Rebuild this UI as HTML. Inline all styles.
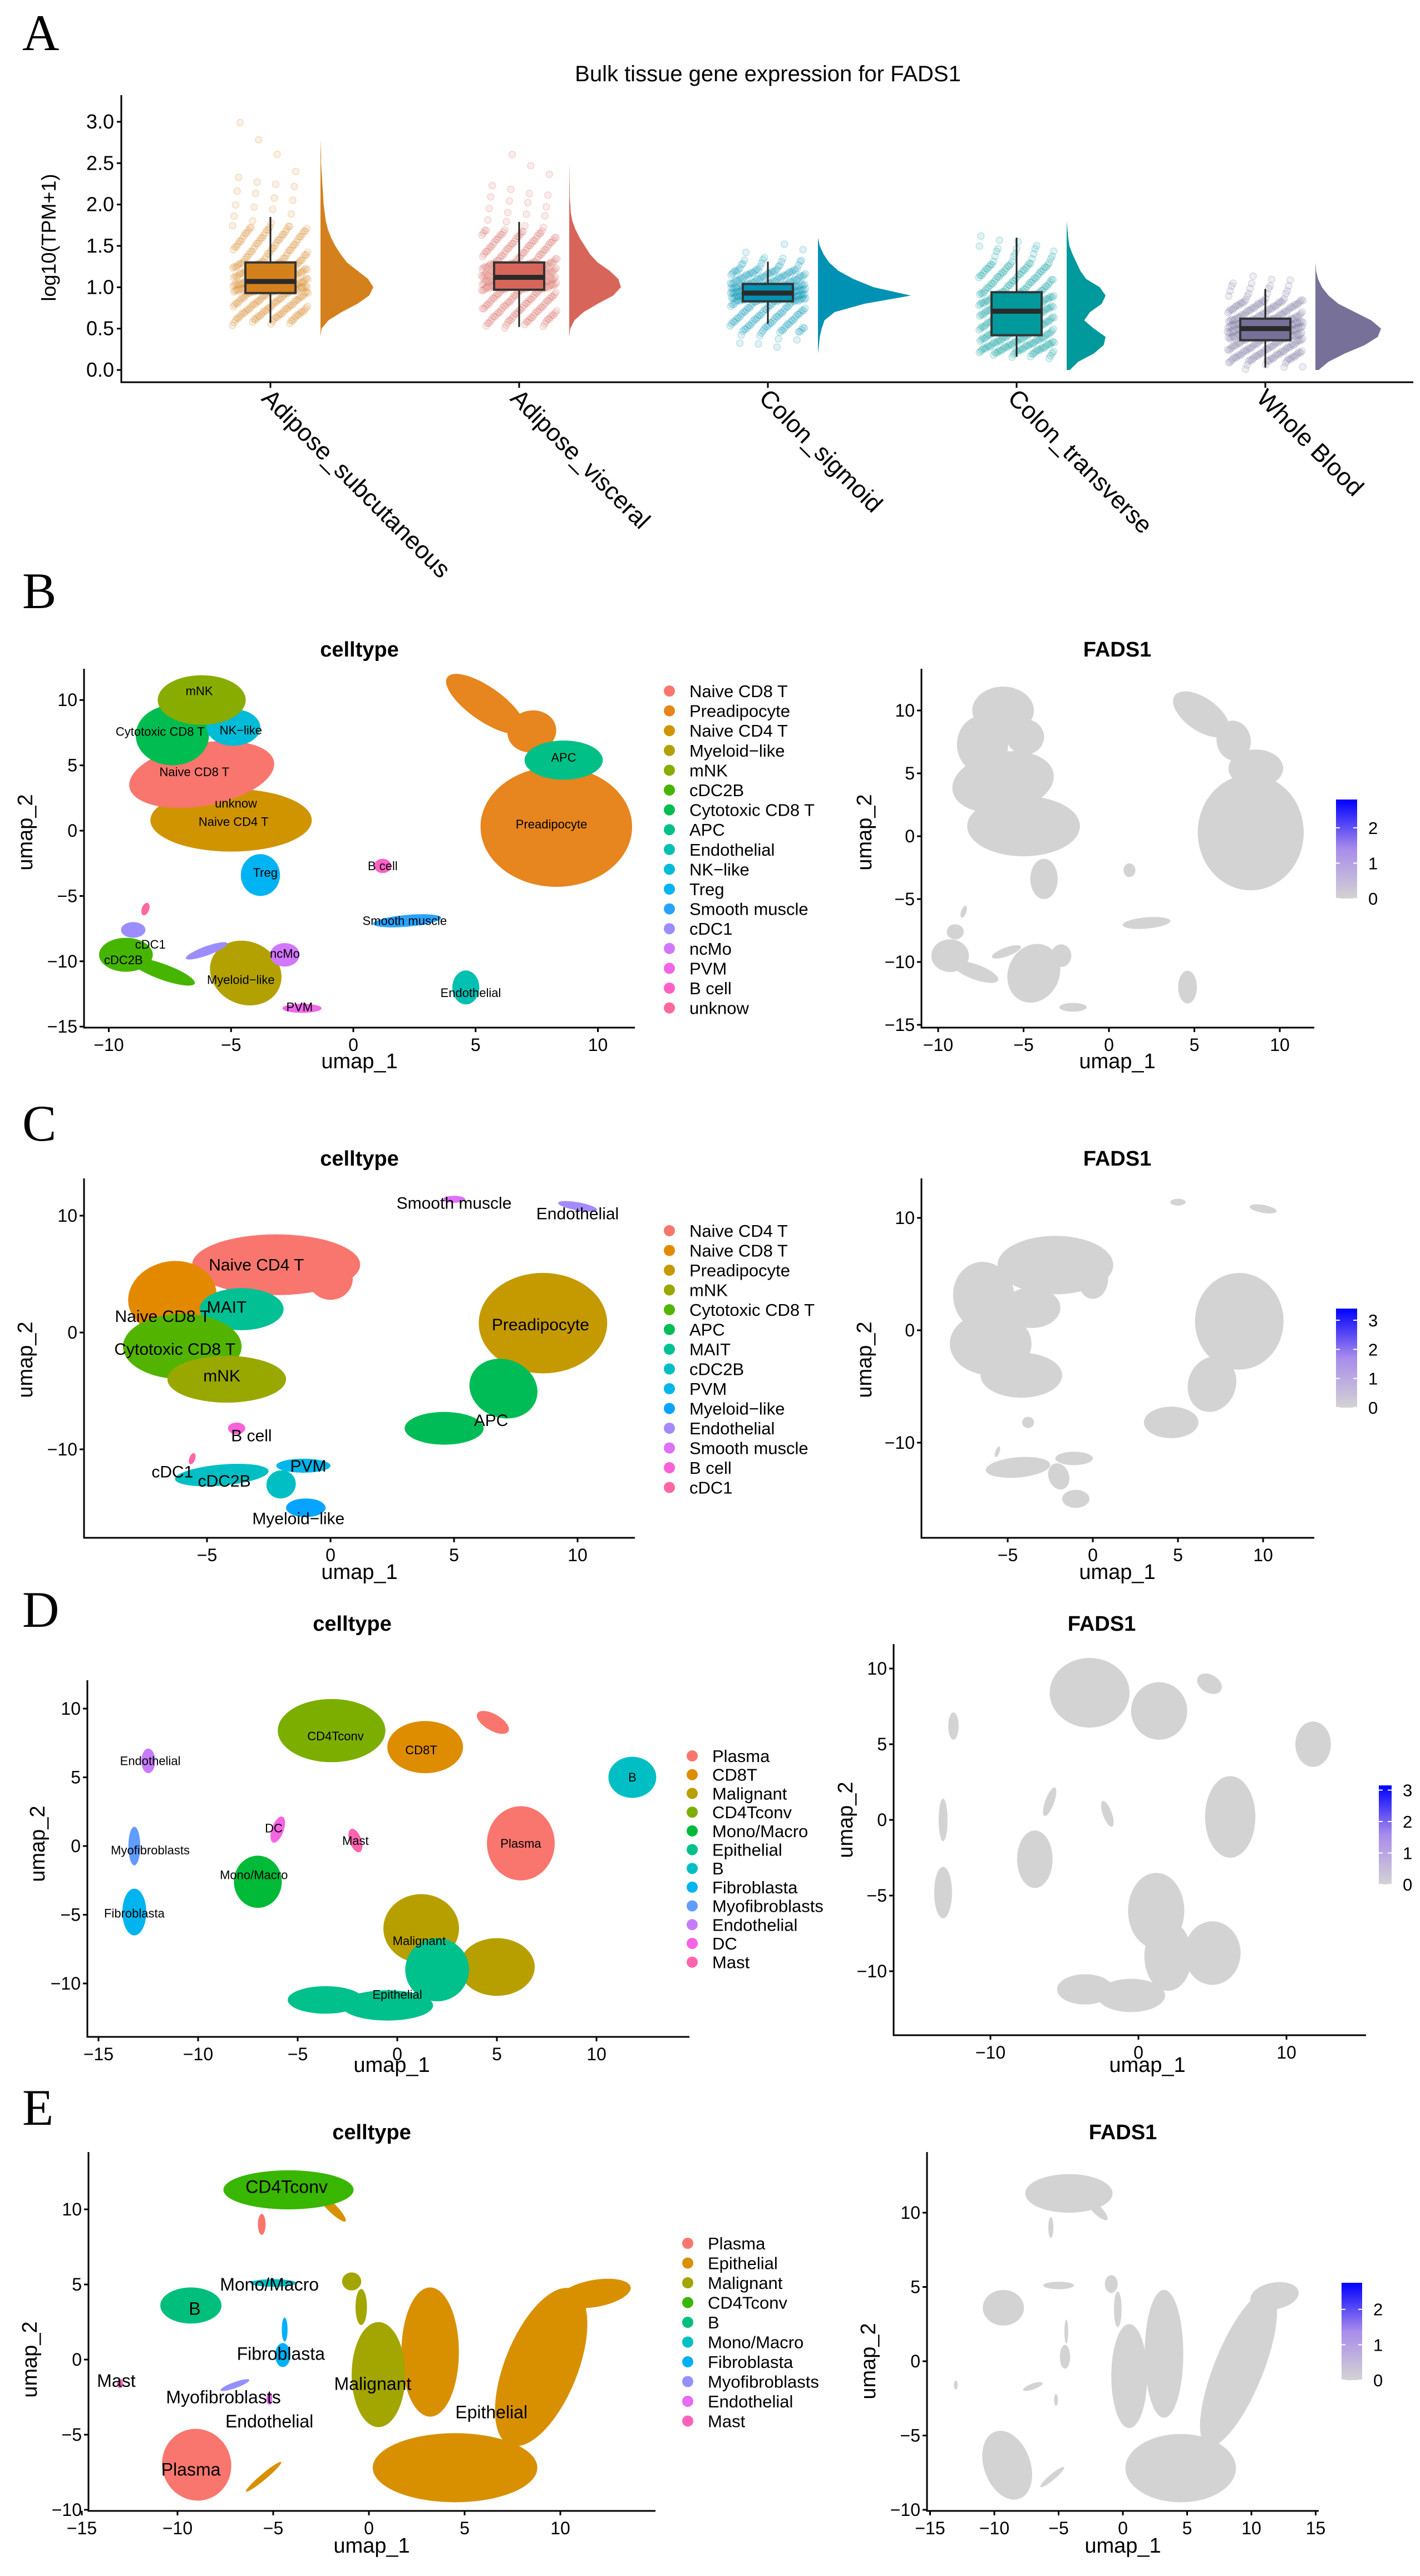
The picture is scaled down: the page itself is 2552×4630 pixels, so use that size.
<!DOCTYPE html>
<html><head><meta charset="utf-8"><title>FADS1 figure</title>
<style>
html,body{margin:0;padding:0;background:#fff;}
svg{display:block;font-family:"Liberation Sans",sans-serif;}
</style></head>
<body>
<svg id="fig" width="2552" height="4630" viewBox="0 0 2552 4630" xmlns="http://www.w3.org/2000/svg">
<rect x="0" y="0" width="2552" height="4630" fill="#fff"/>
<text x="40" y="90" font-family="Liberation Serif,serif" font-size="92">A</text>
<text x="40" y="1093" font-family="Liberation Serif,serif" font-size="92">B</text>
<text x="40" y="2050" font-family="Liberation Serif,serif" font-size="92">C</text>
<text x="40" y="2924" font-family="Liberation Serif,serif" font-size="92">D</text>
<text x="40" y="3819" font-family="Liberation Serif,serif" font-size="92">E</text>
<text x="1380" y="146" text-anchor="middle" font-size="40">Bulk tissue gene expression for FADS1</text>
<text transform="translate(100,427) rotate(-90)" text-anchor="middle" font-size="36">log10(TPM+1)</text>
<g id="panelA"></g>
<g id="umaps"></g>
</svg>
<script>
// ---------- Panel A data ----------
const tissues = ["Adipose_subcutaneous","Adipose_visceral","Colon_sigmoid","Colon_transverse","Whole Blood"];
const tissueColors = ["#D4801C","#D8655A","#0092B4","#00999C","#777199"];
const boxQ1 = [0.93,0.97,0.83,0.42,0.36];
const boxMedian = [1.07,1.12,0.93,0.71,0.50];
const boxQ3 = [1.30,1.30,1.04,0.94,0.62];
const whiskLow = [0.57,0.52,0.56,0.16,0.03];
const whiskHigh = [1.85,1.79,1.31,1.60,0.98];
const quantP = [0,0.02,0.25,0.5,0.75,0.95,0.99,1];
const quantSub = [0.55,0.60,0.93,1.07,1.30,1.75,2.35,3.07];
const quantVis = [0.52,0.57,0.97,1.12,1.30,1.70,2.20,2.65];
const quantSig = [0.28,0.45,0.83,0.93,1.04,1.22,1.35,1.53];
const quantTra = [0.15,0.20,0.42,0.71,0.94,1.30,1.50,1.62];
const quantBlo = [0.02,0.10,0.36,0.50,0.62,0.85,1.05,1.13];
const densGrid = [0,0.1,0.2,0.3,0.4,0.5,0.6,0.7,0.8,0.9,1.0,1.1,1.2,1.3,1.4,1.5,1.6,1.7,1.8,1.9,2.0,2.1,2.2,2.3,2.4,2.5,2.6,2.7,2.8];
const densSub = [0,0,0,0,0,0.02,0.15,0.4,0.7,0.92,1.0,0.9,0.7,0.5,0.38,0.28,0.2,0.14,0.1,0.08,0.06,0.05,0.04,0.03,0.02,0.01,0.01,0.005,0];
const densVis = [0,0,0,0,0,0.02,0.1,0.28,0.55,0.85,1.0,0.95,0.78,0.55,0.4,0.3,0.2,0.12,0.06,0.03,0.02,0.01,0.01,0.005,0.003,0,0,0,0];
const densSig = [0,0,0,0.01,0.02,0.04,0.07,0.18,0.5,1.0,0.6,0.38,0.22,0.12,0.06,0.02,0,0,0,0,0,0,0,0,0,0,0,0,0];
const densTra = [0.08,0.3,0.7,0.95,1.0,0.7,0.45,0.6,0.9,1.0,0.85,0.5,0.35,0.25,0.15,0.07,0.04,0.02,0,0,0,0,0,0,0,0,0,0,0];
const densBlo = [0.05,0.2,0.45,0.75,0.95,1.0,0.85,0.6,0.35,0.2,0.1,0.04,0.01,0,0,0,0,0,0,0,0,0,0,0,0,0,0,0,0];
const violinMaxPx = [95,93,167,70,118];
const yTicksA = [0,0.5,1.0,1.5,2.0,2.5,3.0];
const yTickLabelsA = ["0.0","0.5","1.0","1.5","2.0","2.5","3.0"];

// ---------- UMAP data ----------
const legendB = ["Naive CD8 T","Preadipocyte","Naive CD4 T","Myeloid\u2212like","mNK","cDC2B","Cytotoxic CD8 T","APC","Endothelial","NK\u2212like","Treg","Smooth muscle","cDC1","ncMo","PVM","B cell","unknow"];
const blobsB = [
["Preadipocyte",8.3,0.3,3.1,4.6,0],["Preadipocyte",5.4,9.7,1.9,1.3,35],["Preadipocyte",7.3,7.6,1.0,1.6,-10],
["APC",8.6,5.4,1.6,1.5,0],["Naive CD4 T",-5.0,0.8,3.3,2.4,0],["Treg",-3.8,-3.4,0.8,1.6,0],
["Naive CD8 T",-6.2,4.3,3.0,2.4,-10],["Cytotoxic CD8 T",-7.4,7.3,1.5,2.3,0],["NK\u2212like",-4.9,7.9,1.1,1.4,0],
["mNK",-6.2,10.0,1.8,1.9,0],["Myeloid\u2212like",-4.4,-10.9,1.5,2.4,25],["cDC2B",-9.3,-9.5,1.1,1.3,0],
["cDC2B",-7.8,-10.8,1.4,0.6,20],["cDC1",-9.0,-7.6,0.5,0.6,0],["cDC1",-6.0,-9.2,0.9,0.35,-20],
["ncMo",-2.8,-9.5,0.6,0.9,0],["PVM",-2.1,-13.6,0.8,0.35,0],["B cell",1.2,-2.7,0.35,0.55,0],
["Smooth muscle",2.2,-6.9,1.4,0.45,-5],["Endothelial",4.6,-12.0,0.55,1.3,0],["unknow",-8.5,-6.0,0.15,0.5,20]];
const labelsB = [["mNK",-6.3,10.7],["Cytotoxic CD8 T",-7.9,7.6],["NK\u2212like",-4.6,7.7],["Naive CD8 T",-6.5,4.5],["unknow",-4.8,2.1],["Naive CD4 T",-4.9,0.7],["Treg",-3.6,-3.2],["B cell",1.2,-2.7],["Preadipocyte",8.1,0.5],["APC",8.6,5.6],["Smooth muscle",2.1,-6.9],["Endothelial",4.8,-12.4],["cDC1",-8.3,-8.7],["cDC2B",-9.4,-9.9],["Myeloid\u2212like",-4.6,-11.4],["ncMo",-2.8,-9.4],["PVM",-2.2,-13.5]];

const legendC = ["Naive CD4 T","Naive CD8 T","Preadipocyte","mNK","Cytotoxic CD8 T","APC","MAIT","cDC2B","PVM","Myeloid\u2212like","Endothelial","Smooth muscle","B cell","cDC1"];
const blobsC = [
["Preadipocyte",8.6,0.8,2.6,4.3,0],["APC",7.0,-4.8,1.4,2.5,20],["APC",4.6,-8.2,1.6,1.4,0],
["Naive CD4 T",-2.2,5.8,3.4,2.6,0],["Naive CD4 T",0,4.6,0.9,1.8,0],["Naive CD8 T",-6.4,3.0,1.8,3.1,-10],
["MAIT",-3.6,2.0,1.7,1.8,0],["Cytotoxic CD8 T",-6.0,-1.2,2.4,2.8,0],["mNK",-4.2,-4.0,2.4,2.0,0],
["Smooth muscle",5.0,11.4,0.45,0.3,0],["Endothelial",10.0,10.8,0.8,0.35,10],["B cell",-3.8,-8.2,0.35,0.5,0],
["cDC1",-5.6,-10.8,0.12,0.5,20],["cDC2B",-4.4,-12.2,1.9,0.9,-5],["PVM",-1.1,-11.4,1.1,0.6,0],
["cDC2B",-2.0,-13.0,0.6,1.2,-20],["Myeloid\u2212like",-1.0,-15.0,0.8,0.8,0]];
const labelsC = [["Smooth muscle",5,11.1],["Endothelial",10,10.2],["Naive CD4 T",-3,5.8],["MAIT",-4.2,2.2],["Naive CD8 T",-6.8,1.4],["Cytotoxic CD8 T",-6.3,-1.4],["mNK",-4.4,-3.7],["Preadipocyte",8.5,0.7],["APC",6.5,-7.5],["B cell",-3.2,-8.8],["cDC1",-6.4,-11.9],["cDC2B",-4.3,-12.7],["PVM",-0.9,-11.4],["Myeloid\u2212like",-1.3,-15.9]];

const legendD = ["Plasma","CD8T","Malignant","CD4Tconv","Mono/Macro","Epithelial","B","Fibroblasta","Myofibroblasts","Endothelial","DC","Mast"];
const blobsD = [
["CD4Tconv",-3.3,8.4,2.7,2.3,0],["CD8T",1.4,7.2,1.9,1.9,0],["Plasma",4.8,9.0,0.9,0.6,30],
["Plasma",6.2,0.2,1.7,2.7,0],["B",11.8,5.0,1.2,1.5,0],["Endothelial",-12.5,6.2,0.35,0.9,0],
["Myofibroblasts",-13.2,0.0,0.3,1.4,0],["Fibroblasta",-13.2,-4.8,0.6,1.7,0],["Mono/Macro",-7.0,-2.6,1.2,1.9,0],
["DC",-6.0,1.2,0.3,1.0,20],["Mast",-2.1,0.4,0.3,0.9,-20],["Malignant",1.2,-6.0,1.9,2.5,0],
["Malignant",5.0,-8.8,1.9,2.1,0],["Epithelial",2.0,-9.0,1.6,2.3,0],["Epithelial",-3.6,-11.2,1.9,1.0,0],
["Epithelial",-0.5,-11.6,2.3,1.1,0]];
const labelsD = [["CD4Tconv",-3.1,8.0],["CD8T",1.2,7.0],["Endothelial",-12.4,6.2],["B",11.8,5.0],["DC",-6.2,1.3],["Mast",-2.1,0.4],["Plasma",6.2,0.2],["Myofibroblasts",-12.4,-0.3],["Mono/Macro",-7.2,-2.1],["Fibroblasta",-13.2,-4.9],["Malignant",1.1,-6.9],["Epithelial",0,-10.8]];

const legendE = ["Plasma","Epithelial","Malignant","CD4Tconv","B","Mono/Macro","Fibroblasta","Myofibroblasts","Endothelial","Mast"];
const blobsE = [
["Epithelial",4.5,-7.2,4.3,2.3,0],["Epithelial",3.2,0.5,1.5,4.3,0],["Epithelial",9.0,-0.5,1.9,5.6,22],
["Epithelial",11.8,4.4,1.9,0.9,-10],["Epithelial",-5.5,-7.8,1.2,0.2,-40],["Epithelial",-2.0,10.2,1.1,0.3,45],
["Malignant",0.5,-1.0,1.4,3.5,0],["Malignant",-0.9,5.2,0.5,0.6,0],["Malignant",-0.4,3.5,0.3,1.2,0],
["CD4Tconv",-4.2,11.3,3.4,1.3,0],["Plasma",-5.6,9,0.2,0.7,0],["B",-9.3,3.6,1.6,1.2,0],
["Plasma",-9.0,-7.0,1.8,2.4,-20],["Mono/Macro",-5.0,5.1,1.2,0.25,0],["Fibroblasta",-4.5,0.3,0.4,0.8,0],
["Fibroblasta",-4.4,2.0,0.15,0.8,0],["Myofibroblasts",-7.0,-1.7,0.8,0.2,-20],["Endothelial",-5.2,-2.6,0.15,0.4,0],
["Mast",-13.0,-1.6,0.15,0.3,0]];
const labelsE = [["CD4Tconv",-4.3,11.5],["Mono/Macro",-5.2,5.0],["B",-9.1,3.4],["Fibroblasta",-4.6,0.4],["Mast",-13.2,-1.4],["Myofibroblasts",-7.6,-2.5],["Endothelial",-5.2,-4.1],["Malignant",0.2,-1.6],["Epithelial",6.4,-3.5],["Plasma",-9.3,-7.3]];

const ticks15 = [-15,-10,-5,0,5,10];
const ticksB_x = [-10,-5,0,5,10];
const ticksC_x = [-5,0,5,10];
const ticksC_y = [-10,0,10];
const ticksD_y = [-10,-5,0,5,10];
const ticksDR_x = [-10,0,10];
const ticksER_x = [-15,-10,-5,0,5,10,15];
const cbarB = [0,1,2]; const cbarC = [0,1,2,3]; const cbarD = [0,1,2,3]; const cbarE = [0,1,2];

// ---------- helpers ----------
const NS = "http://www.w3.org/2000/svg";
function mk(tag, attrs, parent){ const e=document.createElementNS(NS,tag); for(const k in attrs) e.setAttribute(k,attrs[k]); parent.appendChild(e); return e; }
function hcl(h,c,l){
  const hr=h*Math.PI/180, U=c*Math.cos(hr), V=c*Math.sin(hr);
  const un=0.1978398, vn=0.4683363;
  const Y = l>8 ? Math.pow((l+16)/116,3) : l/903.3;
  const u=U/(13*l)+un, v=V/(13*l)+vn;
  const X=Y*9*u/(4*v), Z=Y*(12-3*u-20*v)/(4*v);
  const lin=[3.2404542*X-1.5371385*Y-0.4985314*Z, -0.9692660*X+1.8760108*Y+0.0415560*Z, 0.0556434*X-0.2040259*Y+1.0572252*Z];
  return "#"+lin.map(t=>{t=t<=0.0031308?12.92*t:1.055*Math.pow(t,1/2.4)-0.055;t=Math.max(0,Math.min(1,t));return Math.round(t*255).toString(16).padStart(2,"0");}).join("");
}
function huePal(n){ const out=[]; for(let i=0;i<n;i++) out.push(hcl(15+360*i/n,100,65)); return out; }

// ---------- Panel A ----------
const gA = document.getElementById("panelA");
const catX = i => 486 + 447*i;
const yA = v => 665 - 148.7*v;
const quants = [quantSub,quantVis,quantSig,quantTra,quantBlo];
const denss = [densSub,densVis,densSig,densTra,densBlo];
function qval(q,p){ for(let k=1;k<quantP.length;k++){ if(p<=quantP[k]){ const t=(p-quantP[k-1])/(quantP[k]-quantP[k-1]); return q[k-1]+t*(q[k]-q[k-1]); } } return q[q.length-1]; }
tissues.forEach((t,i)=>{
  const cx=catX(i), col=tissueColors[i];
  const pg=mk("g",{},gA);
  
  
  const N=380;
  for(let j=0;j<N;j++){
    const p=(j+0.5)/N; const v=qval(quants[i],p);
    const jx=((j*0.7548777+i*0.31)%1)*2-1;
    const jy=(((j*0.5698403)%1)-0.5)*0.03;
    mk("circle",{cx:(cx+jx*68).toFixed(1),cy:yA(v+jy).toFixed(1),r:6,fill:col,"fill-opacity":0.12,stroke:col,"stroke-opacity":0.28,"stroke-width":1.2},pg);
  }
  const d=denss[i]; let pts=[];
  const x0=cx+90;
  for(let k=0;k<densGrid.length;k++) if(d[k]>0||(k>0&&d[k-1]>0)||(k<d.length-1&&d[k+1]>0)) pts.push([x0+d[k]*violinMaxPx[i], yA(densGrid[k])]);
  let path="M"+x0+","+pts[0][1].toFixed(1);
  pts.forEach(p=>{path+=" L"+p[0].toFixed(1)+","+p[1].toFixed(1);});
  path+=" L"+x0+","+pts[pts.length-1][1].toFixed(1)+" Z";
  const vi=mk("path",{d:path,fill:col,"stroke-linejoin":"round"},gA);
  
  
  const wl=mk("line",{x1:cx,x2:cx,y1:yA(whiskLow[i]),y2:yA(whiskHigh[i]),stroke:"#222","stroke-width":3},gA);
  
  
  const bx=mk("rect",{x:cx-45,y:yA(boxQ3[i]),width:90,height:yA(boxQ1[i])-yA(boxQ3[i]),fill:col,stroke:"#333","stroke-width":4},gA);
  
  
  const md=mk("line",{x1:cx-45,x2:cx+45,y1:yA(boxMedian[i]),y2:yA(boxMedian[i]),stroke:"#2a2a2a","stroke-width":9},gA);
  
  
  mk("line",{x1:cx,x2:cx,y1:687,y2:697,stroke:"#000","stroke-width":3},gA);
  const tl=mk("text",{transform:`translate(${cx-18},718) rotate(45)`,"font-size":44},gA);
  tl.textContent=t;
  
  
});
const axA=mk("path",{d:"M218,171 L218,687 L2540,687",fill:"none",stroke:"#000","stroke-width":3},gA);


yTicksA.forEach((v,i)=>{
  mk("line",{x1:210,x2:218,y1:yA(v),y2:yA(v),stroke:"#000","stroke-width":3},gA);
  const tx=mk("text",{x:205,y:yA(v)+12,"text-anchor":"end","font-size":36},gA);
  tx.textContent=yTickLabelsA[i];
  
  
});

// ---------- UMAP panels ----------
const G = document.getElementById("umaps");
function umap(cfg){
  const g=mk("g",{},G);
  
  
  const px=x=>cfg.x0+cfg.sx*x, py=y=>cfg.y0-cfg.sy*y;
  const pal=huePal(cfg.legend.length);
  const colOf=n=>pal[cfg.legend.indexOf(n)];
  cfg.blobs.forEach(b=>{
    const e=mk("ellipse",{cx:px(b[1]).toFixed(1),cy:py(b[2]).toFixed(1),rx:(b[3]*cfg.sx).toFixed(1),ry:(b[4]*cfg.sy).toFixed(1),fill:cfg.feature?"#D3D3D3":colOf(b[0]),transform:`rotate(${b[5]} ${px(b[1]).toFixed(1)} ${py(b[2]).toFixed(1)})`},g);
    
    
  });
  if(!cfg.feature && cfg.labels){
    cfg.labels.forEach(l=>{
      const t=mk("text",{x:px(l[1]),y:py(l[2])+cfg.lfs*0.35,"text-anchor":"middle","font-size":cfg.lfs},g);
      t.textContent=l[0];
      
      
    });
  }
  const ax=mk("path",{d:`M${cfg.left},${cfg.top} L${cfg.left},${cfg.bottom} L${cfg.right},${cfg.bottom}`,fill:"none",stroke:"#000","stroke-width":3},g);
  
  
  cfg.xt.forEach(v=>{
    mk("line",{x1:px(v),x2:px(v),y1:cfg.bottom,y2:cfg.bottom+8,stroke:"#000","stroke-width":3},g);
    const t=mk("text",{x:px(v),y:cfg.bottom+42,"text-anchor":"middle","font-size":32},g);
    t.textContent=v<0?"\u2212"+(-v):String(v);
    
    
  });
  cfg.yt.forEach(v=>{
    mk("line",{x1:cfg.left-8,x2:cfg.left,y1:py(v),y2:py(v),stroke:"#000","stroke-width":3},g);
    const t=mk("text",{x:cfg.left-12,y:py(v)+11,"text-anchor":"end","font-size":32},g);
    t.textContent=v<0?"\u2212"+(-v):String(v);
    
    
  });
  const ti=mk("text",{x:cfg.tx,y:cfg.ty,"text-anchor":"middle","font-size":38,"font-weight":"bold"},g);
  ti.textContent=cfg.feature?"FADS1":"celltype";
  
  
  const xl=mk("text",{x:cfg.xlx,y:cfg.xly,"text-anchor":"middle","font-size":38},g);
  xl.textContent="umap_1";
  
  
  const yl=mk("text",{transform:`translate(${cfg.ylx},${cfg.yly}) rotate(-90)`,"text-anchor":"middle","font-size":38},g);
  yl.textContent="umap_2";
  
  
  if(!cfg.feature){
    cfg.legend.forEach((n,i)=>{
      const y=cfg.ly+i*cfg.lsp;
      const c=mk("circle",{cx:cfg.lx,cy:y,r:10,fill:pal[i]},g);
      
      
      const t=mk("text",{x:cfg.lx+36,y:y+11,"font-size":31},g);
      t.textContent=n;
      
      
    });
  } else {
    const id="grad"+cfg.name;
    const defs=mk("defs",{},g);
    const lg=mk("linearGradient",{id:id,x1:0,y1:1,x2:0,y2:0},defs);
    mk("stop",{offset:"0",["stop-color"]:"#D3D3D3"},lg);
    mk("stop",{offset:"0.5",["stop-color"]:"#A98CEB"},lg);
    mk("stop",{offset:"1",["stop-color"]:"#0000FF"},lg);
    const r=mk("rect",{x:cfg.cb[0],y:cfg.cb[2],width:cfg.cb[1]-cfg.cb[0],height:cfg.cb[3]-cfg.cb[2],fill:`url(#${id})`},g);
    
    
    const per=(cfg.cb[3]-cfg.cb[2])/cfg.cbMax;
    cfg.cbt.forEach(v=>{
      const y=cfg.cb[3]-v*per;
      mk("line",{x1:cfg.cb[0],x2:cfg.cb[0]+7,y1:y,y2:y,stroke:"#fff","stroke-width":2},g);
      mk("line",{x1:cfg.cb[1]-7,x2:cfg.cb[1],y1:y,y2:y,stroke:"#fff","stroke-width":2},g);
      const t=mk("text",{x:cfg.cb[1]+20,y:y+11,"font-size":31},g);
      t.textContent=String(v);
      
      
    });
  }
}
umap({name:"umap-b-celltype",legend:legendB,blobs:blobsB,labels:labelsB,lfs:22,x0:635,sx:43.95,y0:1493,sy:23.48,left:151,right:1141,top:1202,bottom:1847,xt:ticksB_x,yt:ticks15,tx:646,ty:1180,xlx:646,xly:1920,ylx:58,yly:1496,lx:1203,ly:1242,lsp:35.6});
umap({name:"umap-b-fads1",feature:true,legend:legendB,blobs:blobsB,x0:1993,sx:30.7,y0:1503,sy:22.6,left:1656,right:2362,top:1202,bottom:1847,xt:ticksB_x,yt:ticks15,tx:2008,ty:1180,xlx:2008,xly:1920,ylx:1566,yly:1496,cb:[2401,2439,1437,1615],cbMax:2.8,cbt:cbarB});
umap({name:"umap-c-celltype",legend:legendC,blobs:blobsC,labels:labelsC,lfs:30,x0:594,sx:44.4,y0:2395,sy:21,left:151,right:1141,top:2118,bottom:2764,xt:ticksC_x,yt:ticksC_y,tx:646,ty:2095,xlx:646,xly:2838,ylx:58,yly:2444,lx:1203,ly:2212,lsp:35.5});
umap({name:"umap-c-fads1",feature:true,legend:legendC,blobs:blobsC,x0:1964,sx:30.6,y0:2391,sy:20.2,left:1656,right:2362,top:2118,bottom:2764,xt:ticksC_x,yt:ticksC_y,tx:2008,ty:2095,xlx:2008,xly:2838,ylx:1566,yly:2444,cb:[2401,2439,2352,2530],cbMax:3.4,cbt:cbarC});
umap({name:"umap-d-celltype",legend:legendD,blobs:blobsD,labels:labelsD,lfs:22,x0:714,sx:35.8,y0:3318,sy:24.7,left:157,right:1239,top:3020,bottom:3661,xt:ticks15,yt:ticksD_y,tx:633,ty:2931,xlx:704,xly:3724,ylx:80,yly:3314,lx:1244,ly:3156,lsp:33.7});
umap({name:"umap-d-fads1",feature:true,legend:legendD,blobs:blobsD,x0:2046,sx:26.6,y0:3271,sy:27.2,left:1606,right:2455,top:2955,bottom:3658,xt:ticksDR_x,yt:ticksD_y,tx:1980,ty:2931,xlx:2062,xly:3724,ylx:1532,yly:3271,cb:[2478,2501,3209,3387],cbMax:3.15,cbt:cbarD});
umap({name:"umap-e-celltype",legend:legendE,blobs:blobsE,labels:labelsE,lfs:32,x0:663,sx:34.4,y0:4241,sy:27,left:159,right:1178,top:3868,bottom:4513,xt:ticks15,yt:ticksD_y,tx:668,ty:3845,xlx:668,xly:4588,ylx:66,yly:4241,lx:1236,ly:4032,lsp:35.5});
umap({name:"umap-e-fads1",feature:true,legend:legendE,blobs:blobsE,x0:2018,sx:23.1,y0:4244,sy:26.7,left:1666,right:2370,top:3868,bottom:4513,xt:ticksER_x,yt:ticksD_y,tx:2018,ty:3845,xlx:2018,xly:4588,ylx:1573,yly:4244,cb:[2411,2448,4103,4278],cbMax:2.75,cbt:cbarE});
</script>
</body></html>
